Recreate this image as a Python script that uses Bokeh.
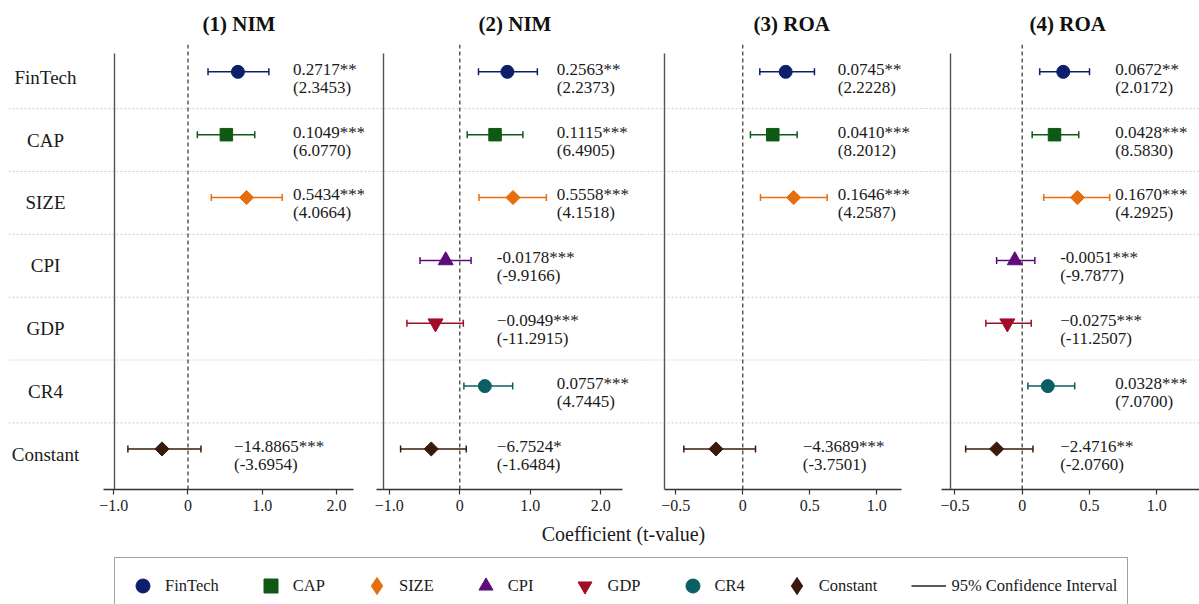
import numpy as np
from bokeh.plotting import figure
from bokeh.layouts import column, row
from bokeh.models import (ColumnDataSource, Range1d, FixedTicker, Span, Whisker, TeeHead,
                          Legend, LegendItem, Label)
from bokeh.core.properties import value
from bokeh.embed import file_html
from bokeh.resources import INLINE

# ---------------- data ----------------
categories = ["FinTech", "CAP", "SIZE", "CPI", "GDP", "CR4", "Constant"]
panel_titles = ["(1) NIM", "(2) NIM", "(3) ROA", "(4) ROA"]

# plotted point estimates and 95% CI bounds (None = variable not in model)
est_1 = [0.673, 0.517, 0.79, None, None, None, -0.35]
lo_1 = [0.27, 0.126, 0.315, None, None, None, -0.81]
hi_1 = [1.09, 0.90, 1.27, None, None, None, 0.175]
coef_1 = ["0.2717**", "0.1049***", "0.5434***", None, None, None, "\u221214.8865***"]
tval_1 = ["(2.3453)", "(6.0770)", "(4.0664)", None, None, None, "(-3.6954)"]

est_2 = [0.675, 0.50, 0.755, -0.20, -0.345, 0.355, -0.405]
lo_2 = [0.265, 0.105, 0.272, -0.565, -0.75, 0.058, -0.84]
hi_2 = [1.10, 0.895, 1.228, 0.16, 0.05, 0.75, 0.092]
coef_2 = ["0.2563**", "0.1115***", "0.5558***", "-0.0178***", "\u22120.0949***", "0.0757***", "\u22126.7524*"]
tval_2 = ["(2.2373)", "(6.4905)", "(4.1518)", "(-9.9166)", "(-11.2915)", "(4.7445)", "(-1.6484)"]

est_3 = [0.32, 0.224, 0.38, None, None, None, -0.20]
lo_3 = [0.127, 0.057, 0.132, None, None, None, -0.44]
hi_3 = [0.535, 0.406, 0.63, None, None, None, 0.095]
coef_3 = ["0.0745**", "0.0410***", "0.1646***", None, None, None, "\u22124.3689***"]
tval_3 = ["(2.2228)", "(8.2012)", "(4.2587)", None, None, None, "(-3.7501)"]

est_4 = [0.305, 0.24, 0.41, -0.055, -0.11, 0.19, -0.19]
lo_4 = [0.13, 0.074, 0.16, -0.19, -0.27, 0.042, -0.42]
hi_4 = [0.50, 0.42, 0.65, 0.094, 0.067, 0.39, 0.08]
coef_4 = ["0.0672**", "0.0428***", "0.1670***", "-0.0051***", "\u22120.0275***", "0.0328***", "\u22122.4716**"]
tval_4 = ["(2.0172)", "(8.5830)", "(4.2925)", "(-9.7877)", "(-11.2507)", "(7.0700)", "(-2.0760)"]

ticks_nim = [-1.0, 0.0, 1.0, 2.0]
tick_labels_nim = ["\u22121.0", "0", "1.0", "2.0"]
ticks_roa = [-0.5, 0.0, 0.5, 1.0]
tick_labels_roa = ["\u22120.5", "0", "0.5", "1.0"]

x_axis_title = "Coefficient (t-value)"
ci_label = "95% Confidence Interval"

# ---------------- styles / layout ----------------
FONT = "Liberation Serif"
colors = ["#0d1e6b", "#0e5a14", "#e66e0d", "#5c0d78", "#a10d27", "#0b5e63", "#3a1a0d"]
markers = ["circle", "square", "square", "triangle", "inverted_triangle", "circle", "square"]
angles = [0, 0, np.pi / 4, 0, 0, 0, np.pi / 4]
sizes = [13, 12.5, 10, 15, 15, 13, 10]
# legend glyphs (legend ignores marker angle, so diamonds use the diamond marker there)
legend_markers = ["circle", "square", "diamond", "triangle", "inverted_triangle", "circle", "diamond"]
legend_line_w = [1, 1, 2.6, 1, 1, 1, 2.6]

panels = [
    (est_1, lo_1, hi_1, coef_1, tval_1, ticks_nim, tick_labels_nim),
    (est_2, lo_2, hi_2, coef_2, tval_2, ticks_nim, tick_labels_nim),
    (est_3, lo_3, hi_3, coef_3, tval_3, ticks_roa, tick_labels_roa),
    (est_4, lo_4, hi_4, coef_4, tval_4, ticks_roa, tick_labels_roa),
]
border_left = [8, 0, 0, 0]
frame_w = [356, 279, 278, 278]
x_ranges = [(-2.419, 2.379), (-1.352, 2.606), (-0.741, 1.334), (-0.748, 1.317)]
x_bounds = [(-1.138, 2.235), (-1.184, 2.304), (-0.584, 1.184), (-0.603, 1.32)]
spine_x = [-0.99, -1.087, -0.584, -0.533]
title_offset = [194, 114, 110, 108]
text_dx = [(105, 46), (97, 37), (95, 60), (93, 38)]
label_x = -1.92
Y_RANGE = (-0.56, 6.52)
SPINE_TOP = 6.377
POINT_DY = 0.085
ZERO = 0.0

n = len(categories)
rows = [n - 1 - i for i in range(n)]

figs = []
for k, (est, lo, hi, coef, tval, ticks, tlabels) in enumerate(panels):
    p = figure(frame_width=frame_w[k], frame_height=445,
               min_border_left=border_left[k], min_border_right=0,
               min_border_top=43, min_border_bottom=32,
               x_range=Range1d(*x_ranges[k]), y_range=Range1d(*Y_RANGE),
               output_backend="svg", toolbar_location=None, title=panel_titles[k])
    p.grid.visible = False
    p.outline_line_color = None
    p.background_fill_color = "white"
    p.border_fill_color = "white"

    p.title.align = "left"
    p.title.offset = title_offset[k]
    p.title.text_font = FONT
    p.title.text_font_size = "21px"
    p.title.text_font_style = "bold"
    p.title.text_color = "#111111"
    p.title.standoff = 18

    xa = p.xaxis[0]
    xa.ticker = FixedTicker(ticks=ticks, minor_ticks=[])
    xa.major_label_overrides = {t: l for t, l in zip(ticks, tlabels)}
    xa.bounds = x_bounds[k]
    xa.axis_line_color = "#333333"
    xa.axis_line_width = 1.3
    xa.major_tick_line_color = "#333333"
    xa.major_tick_line_width = 1.2
    xa.major_tick_out = 5
    xa.major_tick_in = 0
    xa.minor_tick_line_color = None
    xa.major_label_standoff = 5
    xa.major_label_text_font = FONT
    xa.major_label_text_font_size = "16px"
    xa.major_label_text_color = "#222222"

    ya = p.yaxis[0]
    ya.fixed_location = spine_x[k]
    ya.bounds = (Y_RANGE[0], SPINE_TOP)
    ya.ticker = FixedTicker(ticks=[], minor_ticks=[])
    ya.major_label_text_font_size = "0px"
    ya.major_tick_line_color = None
    ya.minor_tick_line_color = None
    ya.axis_line_color = "#555555"
    ya.axis_line_width = 1.4

    for i in range(n - 1):
        p.add_layout(Span(location=i + 0.5, dimension="width", line_color="#cfcfcf",
                          line_dash="2 2", line_width=1, level="underlay"))
    p.add_layout(Span(location=ZERO, dimension="height", line_color="#333333",
                      line_dash="4 3", line_width=1.2, level="underlay"))

    for i in range(n):
        if est[i] is None:
            continue
        c = colors[i]
        src = ColumnDataSource(dict(x=[est[i]], y=[rows[i] + POINT_DY], lo=[lo[i]], hi=[hi[i]]))
        w = Whisker(source=src, base="y", lower="lo", upper="hi", dimension="width",
                    line_color=c, line_width=1.5, level="underlay",
                    upper_head=TeeHead(size=7, line_color=c, line_width=1.5),
                    lower_head=TeeHead(size=7, line_color=c, line_width=1.5))
        p.add_layout(w)
        p.scatter("x", "y", source=src, marker=markers[i], size=sizes[i], angle=angles[i],
                  fill_color=c, line_color=c, line_width=1)
        neg = coef[i].startswith("-") or coef[i].startswith("\u2212")
        dx = text_dx[k][1] if neg else text_dx[k][0]
        tsrc = ColumnDataSource(dict(x=[ZERO], y=[rows[i]], coef=[coef[i]], tval=[tval[i]]))
        p.text("x", "y", text="coef", source=tsrc, x_offset=dx, y_offset=-8,
               text_font=value(FONT), text_font_size="17px", text_color="#1a1a1a",
               text_align="left", text_baseline="middle")
        p.text("x", "y", text="tval", source=tsrc, x_offset=dx, y_offset=10,
               text_font=value(FONT), text_font_size="17px", text_color="#1a1a1a",
               text_align="left", text_baseline="middle")

    if k == 0:
        csrc = ColumnDataSource(dict(x=[label_x] * n, y=rows, t=categories))
        p.text("x", "y", text="t", source=csrc, text_font=value(FONT), text_font_size="19px",
               text_color="#1a1a1a", text_align="center", text_baseline="middle")
    figs.append(p)

# ---------------- bottom: axis title + legend ----------------
pb = figure(width=1199, height=84, x_range=Range1d(0, 1199), y_range=Range1d(0, 84),
            min_border=0, x_axis_type=None, y_axis_type=None,
            output_backend="svg", toolbar_location=None)
pb.grid.visible = False
pb.outline_line_color = None
pb.background_fill_color = "white"
pb.border_fill_color = "white"
pb.add_layout(Label(x=623, y=72, text=x_axis_title, text_align="center", text_baseline="middle",
                    text_font=FONT, text_font_size="20px", text_color="#1a1a1a"))

# legend-only renderers (NaN placeholders: nothing drawn in the plot area)
nan_src = dict(x=[np.nan], y=[np.nan])
items = []
for i, cat in enumerate(categories):
    r = pb.scatter(x="x", y="y", source=ColumnDataSource(dict(nan_src)), marker=legend_markers[i],
                   fill_color=colors[i], line_color=colors[i], line_width=legend_line_w[i],
                   line_join="miter")
    items.append(LegendItem(label=cat, renderers=[r]))
rl = pb.line(x="x", y="y", source=ColumnDataSource(dict(nan_src)),
             line_color="#222222", line_width=1.5)
items.append(LegendItem(label=ci_label, renderers=[rl]))
leg = Legend(items=items, orientation="horizontal", location=(114, -9),
             glyph_width=35, glyph_height=35, label_standoff=5, spacing=34,
             padding=10, margin=0, border_line_color="#444444", border_line_width=1.3,
             background_fill_color="white", background_fill_alpha=1.0,
             label_text_font=FONT, label_text_font_size="16.5px", label_text_color="#1a1a1a")
pb.add_layout(leg)

layout = column(row(*figs, spacing=0), pb, spacing=0)
open("out.html", "w").write(file_html(layout, INLINE))
